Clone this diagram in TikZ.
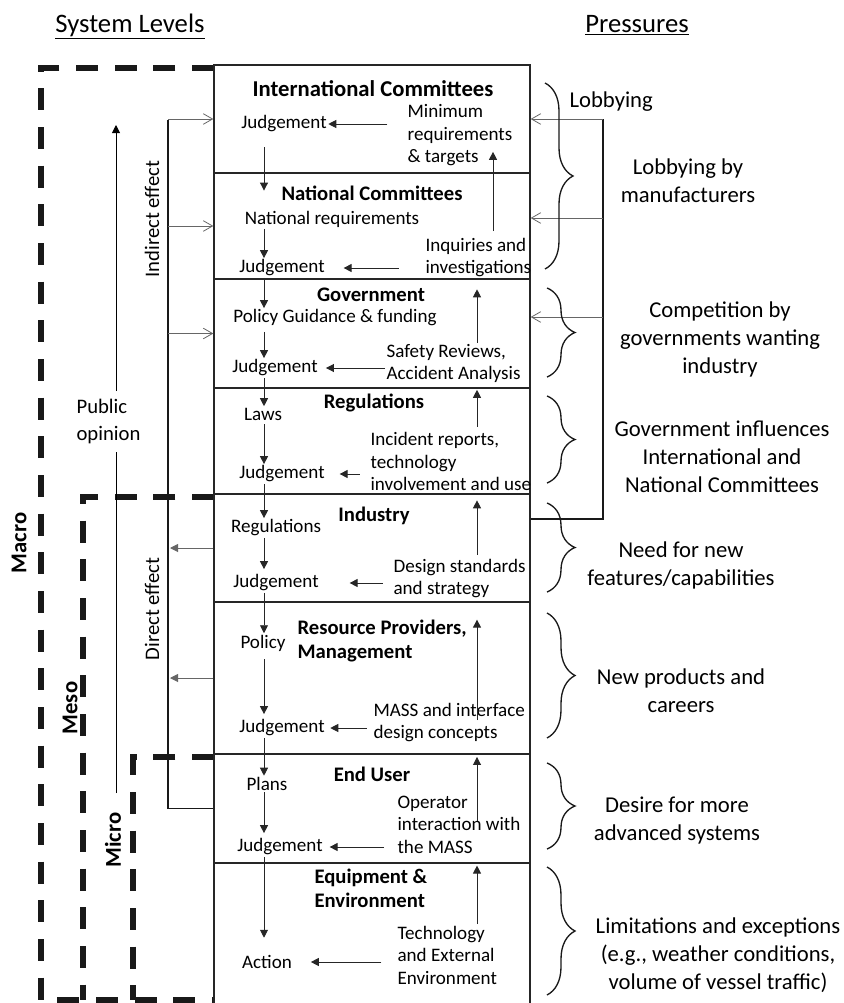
\documentclass[tikz,border=0pt]{standalone}
\usepackage{fontspec}
\setmainfont{Carlito}
\usetikzlibrary{arrows.meta,decorations.pathreplacing}

\begin{document}
\begin{tikzpicture}[
  x=0.75pt, y=-0.75pt,
  every node/.style={inner sep=1pt},
  hdr/.style={font=\fontsize{20}{24}\selectfont},
  ttl/.style={font=\fontsize{15.5}{18}\selectfont\bfseries, align=left},
  txt/.style={font=\fontsize{14.3}{16.9}\selectfont, align=left},
  prs/.style={font=\fontsize{17}{21}\selectfont, align=center},
  pop/.style={font=\fontsize{15.5}{20}\selectfont, align=left},
  zname/.style={font=\fontsize{17}{20}\selectfont\bfseries, rotate=90},
  efct/.style={font=\fontsize{15.5}{19}\selectfont, rotate=90},
  lvl/.style={draw=black!85, line width=1pt, minimum width=237pt, inner sep=0pt},
  zone/.style={draw=black!90, line width=3.8pt, dash pattern=on 16.5pt off 12.5pt},
  bus/.style={draw=black!90, line width=1.25pt},
  thinln/.style={draw=black, line width=0.7pt},
  flow/.style={-{Triangle[length=6pt,width=6pt]}, draw=black!85, line width=0.7pt},
  back/.style={flow, draw=black!60},
  feed/.style={-{Straight Barb[length=7pt,width=8pt]}, draw=black!60, line width=0.6pt},
  brc/.style={decorate, decoration={brace, amplitude=21pt}, draw=black!90, line width=1pt},
]
  \useasboundingbox (0,0) rectangle (843,1003);
  \node[hdr, anchor=base] (hSys) at (130,32) {\underline{System Levels}};
  \node[hdr, anchor=base] (hPrs) at (637,32) {\underline{Pressures}};

  \draw[zone] (214,68) -- (41,68) -- (41,1000) -- (214,1000);
  \draw[zone] (214,497) -- (83,497) -- (83,1000);
  \draw[zone] (214,757) -- (133,757) -- (133,1000);
  \node[zname] (zMac) at (19,543) {Macro};
  \node[zname] (zMes) at (70,708) {Meso};
  \node[zname] (zMic) at (113,840) {Micro};

  \node[lvl, minimum height=81pt] (sInt) at (372,119) {};
  \node[lvl, minimum height=79.5pt] (sNat) at (372,226) {};
  \node[lvl, minimum height=81.75pt] (sGov) at (372,333.5) {};
  \node[lvl, minimum height=79.5pt] (sReg) at (372,441) {};
  \node[lvl, minimum height=81pt] (sInd) at (372,548) {};
  \node[lvl, minimum height=114pt] (sRes) at (372,678) {};
  \node[lvl, minimum height=81.75pt] (sEnd) at (372,808.5) {};
  \node[lvl, minimum height=110.25pt] (sEqp) at (372,936.5) {};

  \node[ttl, font=\fontsize{17}{20}\selectfont\bfseries] (tInt) at (373,89) {International Committees};
  \node[ttl] (tNat) at (372,193) {National Committees};
  \node[ttl] (tGov) at (371,295) {Government};
  \node[ttl] (tReg) at (374,403) {Regulations};
  \node[ttl] (tInd) at (374,516) {Industry};
  \node[ttl, anchor=west] (tRes) at (296,641) {Resource Providers,\\Management};
  \node[ttl] (tEnd) at (372,774) {End User};
  \node[ttl, anchor=west] (tEqp) at (313,888.5) {Equipment \&\\Environment};

  \node[txt] (jInt) at (284,124) {Judgement};
  \node[txt] (nReq) at (332,219) {National requirements};
  \node[txt] (jNat) at (282,268) {Judgement};
  \node[txt] (pGov) at (335,318) {Policy Guidance \& funding};
  \node[txt] (jGov) at (275,368) {Judgement};
  \node[txt] (laws) at (263,414) {Laws};
  \node[txt] (jReg) at (282,474) {Judgement};
  \node[txt] (regs) at (276,528) {Regulations};
  \node[txt] (jInd) at (276,583) {Judgement};
  \node[txt] (poli) at (263,643) {Policy};
  \node[txt] (jRes) at (282,728) {Judgement};
  \node[txt] (plan) at (267,784) {Plans};
  \node[txt] (jEnd) at (280,847) {Judgement};
  \node[txt] (actn) at (267,962) {Action};

  \node[txt, anchor=west] (mInt) at (406,135.5) {Minimum\\requirements\\\& targets};
  \node[txt, anchor=west] (iNat) at (424,257.5) {Inquiries and\\investigations};
  \node[txt, anchor=west] (sGovT) at (385,363.5) {Safety Reviews,\\Accident Analysis};
  \node[txt, anchor=west] (iReg) at (369,461.5) {Incident reports,\\technology\\involvement and use};
  \node[txt, anchor=west] (dInd) at (392,578.5) {Design standards\\and strategy};
  \node[txt, anchor=west] (mRes) at (372,722.5) {MASS and interface\\design concepts};
  \node[txt, anchor=west] (oEnd) at (396,824.5) {Operator\\interaction with\\the MASS};
  \node[txt, anchor=west] (tEqpT) at (396,955) {Technology\\and External\\Environment};

  \coordinate (lane) at (264,0);
  \coordinate (upA) at (493,0);
  \coordinate (upB) at (477,0);
  \draw[flow, shorten <=10pt, shorten >=14pt] (jInt.south -| lane) -- (nReq.north -| lane);
  \draw[flow] (nReq.south -| lane) -- (jNat.north -| lane);
  \draw[flow] (jNat.south -| lane) -- (pGov.north -| lane);
  \draw[flow, shorten <=3pt] (pGov.south -| lane) -- (jGov.north -| lane);
  \draw[flow] (jGov.south -| lane) -- (laws.north -| lane);
  \draw[flow, shorten <=2pt] (laws.south -| lane) -- (jReg.north -| lane);
  \draw[flow] (jReg.south -| lane) -- (regs.north -| lane);
  \draw[flow, shorten >=3pt] (regs.south -| lane) -- (jInd.north -| lane);
  \draw[flow] (jInd.south -| lane) -- (poli.north -| lane);
  \draw[flow, shorten <=5pt, shorten >=3pt] (poli.south -| lane) -- (jRes.north -| lane);
  \draw[flow] (jRes.south -| lane) -- (plan.north -| lane);
  \draw[flow, shorten >=3pt] (plan.south -| lane) -- (jEnd.north -| lane);
  \draw[flow, shorten >=12pt] (jEnd.south -| lane) -- (actn.north -| lane);

  \draw[flow, shorten <=14pt] (jInt.east -| mInt.west) -- (jInt.east);
  \draw[flow, shorten <=19pt, shorten >=13pt] (jNat.east -| iNat.west) -- (jNat.east);
  \draw[flow, shorten >=5pt] (jGov.east -| sGovT.west) -- (jGov.east);
  \draw[flow, shorten <=7pt, shorten >=10pt] (jReg.east -| iReg.west) -- (jReg.east);
  \draw[flow, shorten <=7pt, shorten >=22pt] (jInd.east -| dInd.west) -- (jInd.east);
  \draw[flow, shorten <=4pt, shorten >=3pt] (jRes.east -| mRes.west) -- (jRes.east);
  \draw[flow, shorten <=9pt, shorten >=4pt] (jEnd.east -| oEnd.west) -- (jEnd.east);
  \draw[flow, shorten <=11pt, shorten >=13pt] (actn.east -| tEqpT.west) -- (actn.east);

  \draw[flow, shorten <=4pt, shorten >=-12pt] (iNat.north -| upA) -- (mInt.south -| upA);
  \draw[flow, shorten >=8pt] (sGovT.north -| upB) -- (iNat.south -| upB);
  \draw[flow, shorten <=3pt, shorten >=4pt] (iReg.north -| upB) -- (sGovT.south -| upB);
  \draw[flow, shorten <=2pt, shorten >=6pt] (dInd.north -| upB) -- (iReg.south -| upB);
  \draw[flow, shorten <=-14pt, shorten >=15pt] (mRes.north -| upB) -- (dInd.south -| upB);
  \draw[flow, shorten <=-20pt, shorten >=10pt] (oEnd.north -| upB) -- (mRes.south -| upB);
  \draw[flow, shorten >=8pt] (tEqpT.north -| upB) -- (oEnd.south -| upB);

  \node[pop, anchor=west] (popn) at (75,421.5) {Public\\opinion};
  \coordinate (popTop) at (116,125);
  \coordinate (popBot) at (116,793);
  \draw[thinln, shorten >=5pt] (popBot) -- (popn.south -| popBot);
  \draw[thinln, flow, draw=black, shorten <=5pt] (popn.north -| popTop) -- (popTop);

  \coordinate (indTop) at (168,120);
  \draw[bus] (indTop) -- (indTop |- sEnd.west) -- (sEnd.west);
  \draw[feed] (sInt.west -| indTop) -- (sInt.west);
  \draw[feed] (sNat.west -| indTop) -- (sNat.west);
  \draw[feed] (sGov.west -| indTop) -- (sGov.west);
  \draw[back, shorten >=1.5pt] (sInd.west) -- (sInd.west -| indTop);
  \draw[back, shorten >=1.5pt] (sRes.west) -- (sRes.west -| indTop);
  \node[efct] (eInd) at (152,219) {Indirect effect};
  \node[efct] (eDir) at (152,609) {Direct effect};

  \coordinate (lobTop) at (603,119);
  \coordinate (lobNat) at (603,218);
  \coordinate (lobGov) at (603,317);
  \coordinate (lobBot) at (603,519);
  \draw[bus] (lobTop) -- (lobBot) -- (lobBot -| sInd.east);
  \draw[feed] (lobTop) -- (lobTop -| sInt.east);
  \draw[feed] (lobNat) -- (lobNat -| sNat.east);
  \draw[feed] (lobGov) -- (lobGov -| sGov.east);

  \draw[brc] (545,83) -- (545,269);
  \draw[brc] (547,288) -- (547,377);
  \draw[brc] (547,396) -- (547,483);
  \draw[brc] (547,503) -- (547,592);
  \draw[brc] (547,613) -- (547,738);
  \draw[brc] (547,763) -- (547,849);
  \draw[brc] (547,867) -- (547,995);

  \node[prs, anchor=west] (pLob) at (568,102) {Lobbying};
  \node[prs] (pMan) at (688,181) {Lobbying by\\manufacturers};
  \node[prs] (pCom) at (720,339) {Competition by\\governments wanting\\industry};
  \node[prs] (pGin) at (722,457) {Government influences\\International and\\National Committees};
  \node[prs] (pNeed) at (681,565.5) {Need for new\\features/capabilities};
  \node[prs] (pNew) at (681,691) {New products and\\careers};
  \node[prs] (pDes) at (677,821) {Desire for more\\advanced systems};
  \node[prs] (pLim) at (718,955) {Limitations and exceptions\\(e.g., weather conditions,\\volume of vessel traffic)};
\end{tikzpicture}
\end{document}
